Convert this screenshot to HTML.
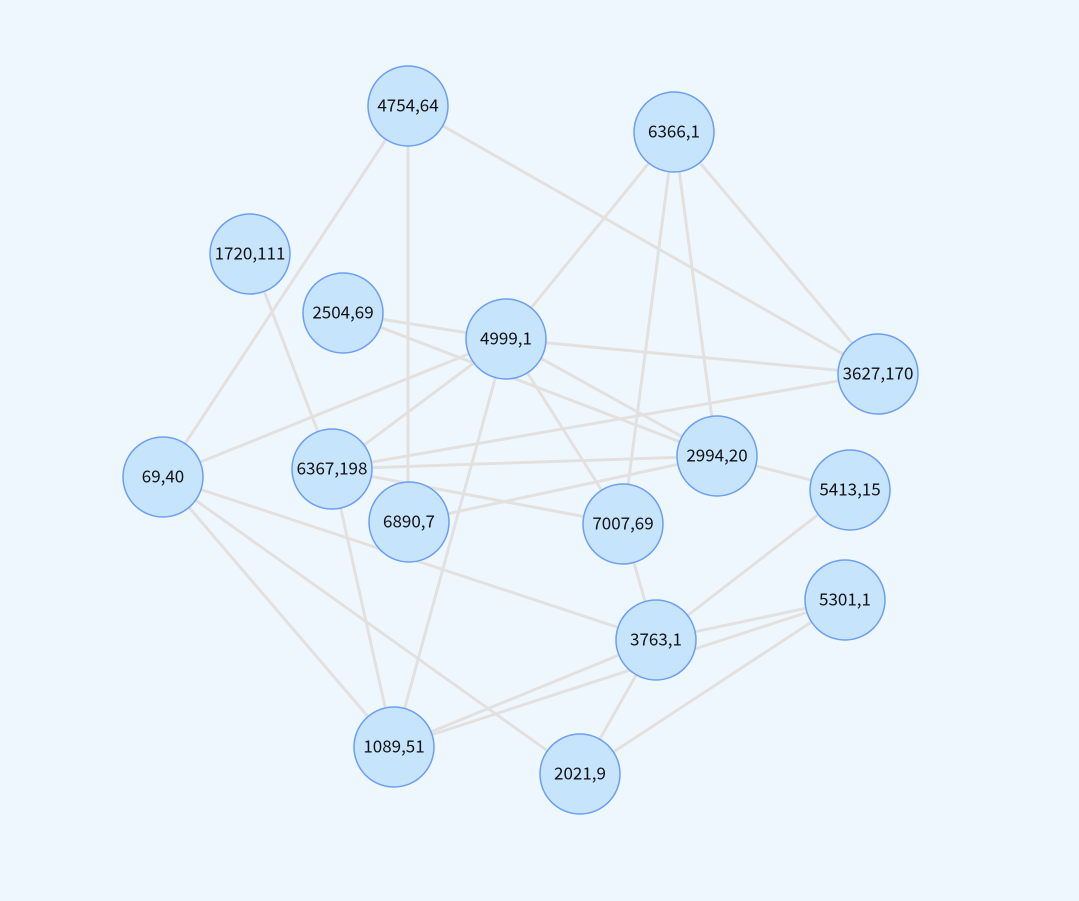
<!DOCTYPE html>
<html><head><meta charset="utf-8"><style>
html,body{margin:0;padding:0;background:#eff7fe;}
svg{display:block;}
text{font-family:"Noto Sans CJK SC","Liberation Sans",sans-serif;font-size:17px;fill:#111;}
</style></head><body>
<svg width="1079" height="901" viewBox="0 0 1079 901">
<rect width="1079" height="901" fill="#eff7fe"/>
<g stroke="#e3e1df" stroke-width="3" fill="none">
<line x1="408" y1="106" x2="163" y2="477"/>
<line x1="408" y1="106" x2="408" y2="522"/>
<line x1="408" y1="106" x2="878" y2="374"/>
<line x1="674" y1="132" x2="506" y2="339"/>
<line x1="674" y1="132" x2="623" y2="524"/>
<line x1="674" y1="132" x2="717" y2="456"/>
<line x1="674" y1="132" x2="878" y2="374"/>
<line x1="250" y1="254" x2="332" y2="469"/>
<line x1="343" y1="313" x2="506" y2="339"/>
<line x1="343" y1="313" x2="717" y2="456"/>
<line x1="506" y1="339" x2="878" y2="374"/>
<line x1="506" y1="339" x2="163" y2="477"/>
<line x1="506" y1="339" x2="332" y2="469"/>
<line x1="506" y1="339" x2="623" y2="524"/>
<line x1="506" y1="339" x2="717" y2="456"/>
<line x1="506" y1="339" x2="394" y2="747"/>
<line x1="717" y1="456" x2="850" y2="490"/>
<line x1="878" y1="374" x2="332" y2="469"/>
<line x1="332" y1="469" x2="717" y2="456"/>
<line x1="332" y1="469" x2="623" y2="524"/>
<line x1="409" y1="522" x2="717" y2="456"/>
<line x1="163" y1="477" x2="656" y2="640"/>
<line x1="163" y1="477" x2="394" y2="747"/>
<line x1="163" y1="477" x2="580" y2="774"/>
<line x1="332" y1="469" x2="394" y2="747"/>
<line x1="623" y1="524" x2="656" y2="640"/>
<line x1="850" y1="490" x2="656" y2="640"/>
<line x1="656" y1="640" x2="580" y2="774"/>
<line x1="845" y1="600" x2="656" y2="640"/>
<line x1="656" y1="640" x2="394" y2="747"/>
<line x1="845" y1="600" x2="394" y2="747"/>
<line x1="845" y1="600" x2="580" y2="774"/>
</g>
<g fill="#c7e4fd" stroke="#6b9ef5" stroke-width="1.5">
<circle cx="408" cy="106" r="40"/>
<circle cx="674" cy="132" r="40"/>
<circle cx="250" cy="254" r="40"/>
<circle cx="343" cy="313" r="40"/>
<circle cx="506" cy="339" r="40"/>
<circle cx="878" cy="374" r="40"/>
<circle cx="163" cy="477" r="40"/>
<circle cx="332" cy="469" r="40"/>
<circle cx="409" cy="522" r="40"/>
<circle cx="623" cy="524" r="40"/>
<circle cx="717" cy="456" r="40"/>
<circle cx="850" cy="490" r="40"/>
<circle cx="845" cy="600" r="40"/>
<circle cx="656" cy="640" r="40"/>
<circle cx="394" cy="747" r="40"/>
<circle cx="580" cy="774" r="40"/>
</g>
<g text-anchor="middle" dominant-baseline="central" transform="translate(0,-2)">
<text x="408" y="106">4754,64</text>
<text x="674" y="132">6366,1</text>
<text x="250" y="254">1720,111</text>
<text x="343" y="313">2504,69</text>
<text x="506" y="339">4999,1</text>
<text x="878" y="374">3627,170</text>
<text x="163" y="477">69,40</text>
<text x="332" y="469">6367,198</text>
<text x="409" y="522">6890,7</text>
<text x="623" y="524">7007,69</text>
<text x="717" y="456">2994,20</text>
<text x="850" y="490">5413,15</text>
<text x="845" y="600">5301,1</text>
<text x="656" y="640">3763,1</text>
<text x="394" y="747">1089,51</text>
<text x="580" y="774">2021,9</text>
</g>
</svg>
</body></html>
